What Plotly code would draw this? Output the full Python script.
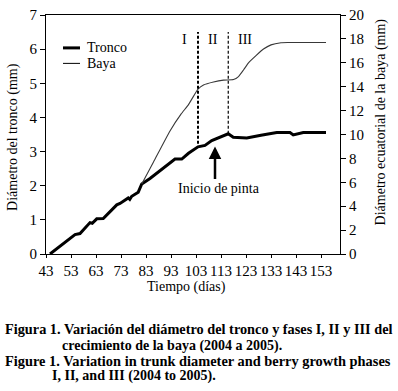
import plotly.graph_objects as go

# ---------------- data ----------------
dias_tronco = [44.6, 50, 54.6, 56.6, 60.6, 61.5, 63.3, 65.9, 71.3, 72.6, 75.9, 76.5, 77.3,
               79.9, 81.3, 84.6, 88, 92.6, 94.6, 97.3, 100, 103.8, 106.6, 109.3, 112.6,
               115.9, 117.9, 123.3, 129, 135.3, 140.6, 141.9, 145.9, 155]
tronco = [0, 0.32, 0.57, 0.6, 0.92, 0.9, 1.03, 1.04, 1.44, 1.48, 1.64, 1.6, 1.69,
          1.81, 2.05, 2.21, 2.4, 2.66, 2.78, 2.78, 2.95, 3.14, 3.18, 3.32, 3.42,
          3.52, 3.42, 3.40, 3.48, 3.56, 3.56, 3.49, 3.56, 3.56]

dias_baya = [81.3, 86, 92.6, 97, 100, 103.8, 106, 110, 114, 118, 120, 122, 124, 127,
             130, 133, 137, 140, 155]
baya = [5.85, 7.7, 10.3, 11.7, 12.5, 13.8, 14.15, 14.4, 14.55, 14.6, 14.85, 15.4, 16.0,
        16.6, 17.15, 17.5, 17.68, 17.7, 17.7]

x_ticks = [43, 53, 63, 73, 83, 93, 103, 113, 123, 133, 143, 153]
y_left_ticks = [0, 1, 2, 3, 4, 5, 6, 7]
y_right_ticks = [0, 2, 4, 6, 8, 10, 12, 14, 16, 18, 20]

fase_limites = [103.8, 115.9]          # day of phase boundaries
fase_y_bottom = [3.23, 3.52]           # trunk value where boundary line ends
fase_y_top = 6.5
fase_nombres = ["I", "II", "III"]
fase_label_x = [98.2, 109.7, 122.6]
fase_label_y = 6.29

pinta_dia = 110.6
pinta_tronco = 3.15

caption_lines = [
    "Figura 1. Variación del diámetro del tronco y fases I, II y III del",
    "crecimiento de la baya (2004 a 2005).",
    "Figure 1. Variation in trunk diameter and berry growth phases",
    "I, II, and III (2004 to 2005).",
]

# ---------------- layout geometry (pixels) ----------------
W, H = 398, 391
L, R, T, B = 46, 340, 7, 254


def px_x(p):
    return (p - L) / (R - L)


def px_y(p):
    return (B - p) / (B - T)


FONT = "Liberation Serif"


def text_ann(px, py, text, size=14, angle=0, xanchor="center"):
    return dict(xref="paper", yref="paper", x=px_x(px), y=px_y(py), text=text,
                showarrow=False, xanchor=xanchor, yanchor="middle", textangle=angle,
                font=dict(family=FONT, size=size, color="black"))


fig = go.Figure()
fig.add_trace(go.Scatter(x=dias_baya, y=baya, yaxis="y2", mode="lines",
                         line=dict(color="#383838", width=1.1, shape="spline", smoothing=0.5),
                         name="Baya", showlegend=False, hoverinfo="skip"))
fig.add_trace(go.Scatter(x=dias_tronco, y=tronco, mode="lines",
                         line=dict(color="black", width=3),
                         name="Tronco", showlegend=False, hoverinfo="skip"))

shapes = []
# phase boundaries
shapes.append(dict(type="line", xref="x", yref="y", x0=fase_limites[0], x1=fase_limites[0],
                   y0=fase_y_bottom[0], y1=fase_y_top,
                   line=dict(color="black", width=2, dash="3px,2px")))
shapes.append(dict(type="line", xref="x", yref="y", x0=fase_limites[1], x1=fase_limites[1],
                   y0=fase_y_bottom[1], y1=fase_y_top,
                   line=dict(color="black", width=1.2, dash="3px,2px")))
# legend samples
shapes.append(dict(type="line", xref="paper", yref="paper", x0=px_x(63), x1=px_x(80),
                   y0=px_y(41), y1=px_y(41), line=dict(color="black", width=3)))
shapes.append(dict(type="line", xref="paper", yref="paper", x0=px_x(63), x1=px_x(80),
                   y0=px_y(57), y1=px_y(57), line=dict(color="black", width=1)))

ann = []
ann.append(text_ann(85, 41, "Tronco", xanchor="left"))
ann.append(text_ann(85, 57, "Baya", xanchor="left"))
for nx, nm in zip(fase_label_x, fase_nombres):
    ann.append(dict(xref="x", yref="y", x=nx, y=fase_label_y, text=nm, showarrow=False,
                    xanchor="center", yanchor="middle",
                    font=dict(family=FONT, size=14, color="black")))
# arrow
ann.append(dict(xref="x", yref="y", x=pinta_dia, y=pinta_tronco, axref="x", ayref="y",
                ax=pinta_dia, ay=pinta_tronco - 1.0, text="", showarrow=True,
                arrowhead=2, arrowsize=1.0, arrowwidth=2.5, arrowcolor="black", standoff=0))
ann.append(text_ann(219, 186, "Inicio de pinta"))
# axis titles
ann.append(text_ann(186, 288, "Tiempo (días)"))
ann.append(text_ann(13, 133, "Diámetro del tronco (mm)", angle=-90))
ann.append(text_ann(381, 118, "Diámetro ecuatorial de la baya (mm)", angle=-90))
# caption
cap_pos = [(3, 332), (60, 349), (3, 365), (50, 380)]
cap_sizes = [14.3, 14, 14.4, 14]
for (cx, cy), sz, txt in zip(cap_pos, cap_sizes, caption_lines):
    ann.append(text_ann(cx, cy, "<b>" + txt + "</b>", size=sz, xanchor="left"))

axis_common = dict(showgrid=False, zeroline=False, showline=True, linecolor="black",
                   linewidth=1, ticks="outside", tickcolor="black", tickwidth=1,
                   ticklabeloverflow="allow",
                   tickfont=dict(family=FONT, size=15, color="black"))

fig.update_layout(
    width=W, height=H,
    margin=dict(l=L, r=W - R, t=T, b=H - B, pad=0),
    paper_bgcolor="white", plot_bgcolor="white",
    showlegend=False,
    font=dict(family=FONT),
    xaxis=dict(range=[43, 160.6], tickmode="array", tickvals=x_ticks,
               ticktext=[str(v) for v in x_ticks], mirror=True, ticklen=3, **axis_common),
    yaxis=dict(range=[0, 7], tickmode="array", tickvals=y_left_ticks, ticklen=5, **axis_common),
    yaxis2=dict(range=[0, 20], tickmode="array", tickvals=y_right_ticks, overlaying="y",
                side="right", ticklen=5, **axis_common),
    shapes=shapes, annotations=ann,
)

fig.write_html("out.html", config={"displayModeBar": False},
               post_script="document.body.style.margin='0px';document.body.style.padding='0px';")
